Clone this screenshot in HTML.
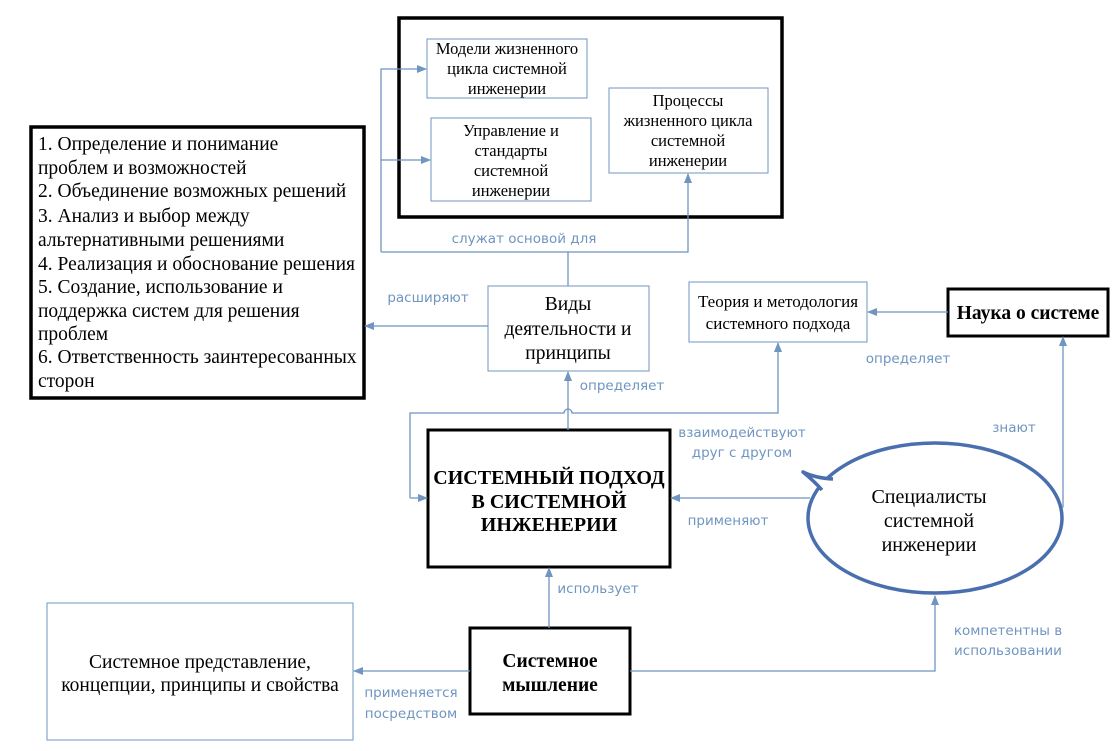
<!DOCTYPE html>
<html><head><meta charset="utf-8"><style>
html,body{margin:0;padding:0;background:#fff;}
svg{display:block;}
.s{font-family:"Liberation Serif",serif;fill:#000;}
.l{font-family:"DejaVu Sans","Liberation Sans",sans-serif;fill:#6f95c0;font-size:13.5px;}
.c{stroke:#6f95c0;stroke-width:1.3;fill:none;}
.b{stroke:#6f95c0;stroke-width:1;fill:#fff;}
</style></head><body>
<svg width="1119" height="751" viewBox="0 0 1119 751" xmlns="http://www.w3.org/2000/svg">
<defs><marker id="a" markerWidth="10" markerHeight="10" refX="9" refY="5" orient="auto" markerUnits="userSpaceOnUse"><path d="M0,1 L10,5 L0,9 Z" fill="#6f95c0"/></marker></defs>

<rect x="399" y="18" width="383" height="199" fill="#fff" stroke="#000" stroke-width="3.5"/>
<rect x="427" y="39" width="160" height="59" class="b"/>
<text class="s" font-size="16.5" text-anchor="middle"><tspan x="507" y="54">Модели жизненного</tspan><tspan x="507" y="74">цикла системной</tspan><tspan x="507" y="94">инженерии</tspan></text>
<rect x="431" y="118" width="160" height="83" class="b"/>
<text class="s" font-size="16.5" text-anchor="middle"><tspan x="511" y="136">Управление и</tspan><tspan x="511" y="156">стандарты</tspan><tspan x="511" y="176">системной</tspan><tspan x="511" y="196">инженерии</tspan></text>
<rect x="609" y="88" width="159" height="85" class="b"/>
<text class="s" font-size="16.5" text-anchor="middle"><tspan x="688" y="106">Процессы</tspan><tspan x="688" y="126">жизненного цикла</tspan><tspan x="688" y="146">системной</tspan><tspan x="688" y="166">инженерии</tspan></text>

<rect x="31" y="127" width="333" height="271" fill="#fff" stroke="#000" stroke-width="3.5"/>
<text class="s" font-size="19.5"><tspan x="38" y="150">1. Определение  и понимание</tspan><tspan x="38" y="174">проблем и возможностей</tspan><tspan x="38" y="197">2. Объединение возможных решений</tspan><tspan x="38" y="222">3. Анализ и выбор между</tspan><tspan x="38" y="246">альтернативными решениями</tspan><tspan x="38" y="270">4. Реализация и обоснование решения</tspan><tspan x="38" y="293">5. Создание, использование и</tspan><tspan x="38" y="317">поддержка систем для решения</tspan><tspan x="38" y="340">проблем</tspan><tspan x="38" y="363">6. Ответственность заинтересованных</tspan><tspan x="38" y="387">сторон</tspan></text>

<rect x="488" y="286" width="161" height="85" class="b"/>
<text class="s" font-size="19.5" text-anchor="middle"><tspan x="568" y="310">Виды</tspan><tspan x="568" y="335">деятельности и</tspan><tspan x="568" y="359">принципы</tspan></text>

<rect x="689" y="282" width="178" height="60" class="b"/>
<text class="s" font-size="17" text-anchor="middle"><tspan x="778" y="307">Теория и методология</tspan><tspan x="778" y="329">системного подхода</tspan></text>

<rect x="948" y="289" width="160" height="47" fill="#fff" stroke="#000" stroke-width="3"/>
<text class="s" font-size="19.5" font-weight="bold" x="1028" y="319" text-anchor="middle">Наука о системе</text>

<rect x="428" y="430" width="242" height="137" fill="#fff" stroke="#000" stroke-width="3"/>
<text class="s" font-size="20" font-weight="bold" text-anchor="middle"><tspan x="549" y="484">СИСТЕМНЫЙ ПОДХОД</tspan><tspan x="549" y="508">В СИСТЕМНОЙ</tspan><tspan x="549" y="531">ИНЖЕНЕРИИ</tspan></text>

<ellipse cx="935" cy="518" rx="127" ry="75" fill="#fff" stroke="#4a6fae" stroke-width="3.5"/>
<path d="M836,477 L826,487 L842,492 Z" fill="#fff"/>
<path d="M833,479 Q815,478 803,472 Q814,481 822,490" fill="#fff" stroke="#4a6fae" stroke-width="3.5" stroke-linejoin="round"/>
<text class="s" font-size="20" text-anchor="middle"><tspan x="929" y="503">Специалисты</tspan><tspan x="929" y="527">системной</tspan><tspan x="929" y="551">инженерии</tspan></text>

<rect x="470" y="628" width="160" height="86" fill="#fff" stroke="#000" stroke-width="3"/>
<text class="s" font-size="19.5" font-weight="bold" text-anchor="middle"><tspan x="550" y="667">Системное</tspan><tspan x="550" y="691">мышление</tspan></text>

<rect x="47" y="603" width="306" height="137" class="b"/>
<text class="s" font-size="19.5" text-anchor="middle"><tspan x="200" y="668">Системное представление,</tspan><tspan x="200" y="691">концепции, принципы и свойства</tspan></text>

<path class="c" d="M568,286 V252 M381,252 H688 V174" marker-end="url(#a)"/>
<path class="c" d="M381,252 V69 H426" marker-end="url(#a)"/>
<path class="c" d="M381,160 H430" marker-end="url(#a)"/>
<path class="c" d="M488,326 H365" marker-end="url(#a)"/>
<path class="c" d="M568,430 V372" marker-end="url(#a)"/>
<path class="c" d="M410,498 V413 H564 A4,4 0 0 1 572,413 H778 V343" marker-end="url(#a)"/>
<path class="c" d="M410,498 H427" marker-end="url(#a)"/>
<path class="c" d="M810,498 H671" marker-end="url(#a)"/>
<path class="c" d="M948,312 H868" marker-end="url(#a)"/>
<path class="c" d="M1062,507 H1063 V337" marker-end="url(#a)"/>
<path class="c" d="M549,628 V568" marker-end="url(#a)"/>
<path class="c" d="M470,671 H354" marker-end="url(#a)"/>
<path class="c" d="M630,671 H935 V596" marker-end="url(#a)"/>

<text class="l" x="524" y="243" text-anchor="middle">служат основой для</text>
<text class="l" x="428" y="302" text-anchor="middle">расширяют</text>
<text class="l" x="622" y="390" text-anchor="middle">определяет</text>
<text class="l" text-anchor="middle"><tspan x="742" y="437">взаимодействуют</tspan><tspan x="742" y="457">друг с другом</tspan></text>
<text class="l" x="728" y="525" text-anchor="middle">применяют</text>
<text class="l" x="908" y="363" text-anchor="middle">определяет</text>
<text class="l" x="1014" y="432" text-anchor="middle">знают</text>
<text class="l" x="598" y="593" text-anchor="middle">использует</text>
<text class="l" text-anchor="middle"><tspan x="411" y="697">применяется</tspan><tspan x="411" y="718">посредством</tspan></text>
<text class="l" text-anchor="middle"><tspan x="1008" y="635">компетентны в</tspan><tspan x="1008" y="655">использовании</tspan></text>
</svg>
</body></html>
